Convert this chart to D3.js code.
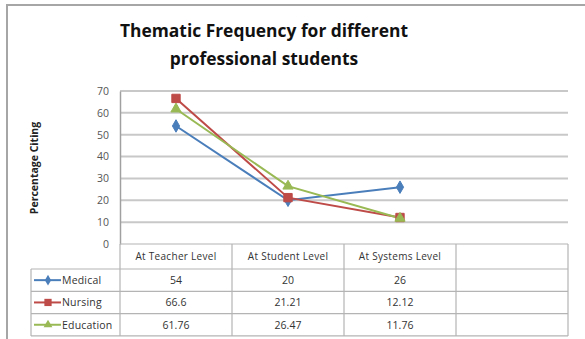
<!DOCTYPE html>
<html>
<head>
<meta charset="utf-8">
<script src="https://cdn.jsdelivr.net/npm/d3@7"></script>
<style>
  body { margin: 0; background: #fff; }
  svg { display: block; font-family: "Open Sans", "DejaVu Sans", sans-serif; }
  .mreza line { stroke: #c8c8c8; stroke-width: 2; }
  .tick-tekst { fill: #555; font-size: 10.5px; }
  .tablica line { stroke: #b4b4b4; stroke-width: 1.2; }
  .tablica text { fill: #333; }
</style>
</head>
<body>
<div id="okvir"></div>
<script>
const kategorije = ["At Teacher Level", "At Student Level", "At Systems Level", ""]
const serije = ["Medical", "Nursing", "Education"]
const medical = [54, 20, 26]
const nursing = [66.6, 21.21, 12.12]
const education = [61.76, 26.47, 11.76]
const tickovi = [0, 10, 20, 30, 40, 50, 60, 70]
const boje = ["#4a7ebb", "#be4b48", "#98b954"]

function crtaj() {
  const dimenzije = {
    sirina: 585,
    visina: 339,
    margine: { top: 91, right: 17, bottom: 95, left: 120 },
  }
  dimenzije.grSirina = dimenzije.sirina - dimenzije.margine.left - dimenzije.margine.right
  dimenzije.grVisina = dimenzije.visina - dimenzije.margine.top - dimenzije.margine.bottom

  const podaci = [medical, nursing, education]

  const okvir = d3.select("#okvir")
    .append("svg")
    .attr("width", dimenzije.sirina)
    .attr("height", dimenzije.visina)

  // vanjski okvir
  okvir.append("path")
    .attr("d", `M7,${dimenzije.visina} V5 H${dimenzije.sirina}`)
    .attr("fill", "none")
    .attr("stroke", "#a6a6a6")
    .attr("stroke-width", 2)

  // naslov
  const naslov = okvir.append("text")
    .attr("text-anchor", "middle")
    .style("font-size", "17.4px")
    .style("font-weight", "bold")
    .style("fill", "#111")
  naslov.append("tspan").attr("x", 264).attr("y", 37).text("Thematic Frequency for different")
  naslov.append("tspan").attr("x", 264).attr("y", 65).text("professional students")

  const granice = okvir.append("g")
    .attr("transform", `translate(${dimenzije.margine.left},${dimenzije.margine.top})`)

  const xSkala = d3.scaleBand()
    .domain(kategorije.map((d, i) => i))
    .range([0, dimenzije.grSirina])

  const ySkala = d3.scaleLinear()
    .domain([0, 70])
    .range([dimenzije.grVisina, 0])

  // mreza
  granice.append("g")
    .attr("class", "mreza")
    .selectAll("line")
    .data(tickovi.filter(d => d > 0))
    .enter().append("line")
      .attr("x1", 0)
      .attr("x2", dimenzije.grSirina)
      .attr("y1", d => ySkala(d))
      .attr("y2", d => ySkala(d))

  // y os
  const yOs = d3.axisLeft(ySkala).tickValues(tickovi).tickSize(0).tickPadding(11)
  const yOsGrupa = granice.append("g").call(yOs)
  yOsGrupa.select(".domain").attr("stroke", "#a0a0a0").attr("stroke-width", 1.5)
  yOsGrupa.selectAll("text")
    .attr("class", "tick-tekst")
    .style("font-family", "'Open Sans', sans-serif")

  okvir.append("text")
    .attr("transform", `translate(38,168) rotate(-90)`)
    .attr("text-anchor", "middle")
    .style("font-size", "10.5px")
    .style("font-weight", "bold")
    .style("fill", "#222")
    .text("Percentage Citing")

  // linije
  const linijaGenerator = d3.line()
    .x((d, i) => xSkala(i) + xSkala.bandwidth() / 2)
    .y(d => ySkala(d))

  const simboli = [d3.symbolDiamond, d3.symbolSquare, d3.symbolTriangle]
  const velicine = [45, 70, 45]

  podaci.forEach((serija, s) => {
    granice.append("path")
      .attr("d", linijaGenerator(serija))
      .attr("fill", "none")
      .attr("stroke", boje[s])
      .attr("stroke-width", 2)
  })
  podaci.forEach((serija, s) => {
    granice.selectAll(".marker" + s)
      .data(serija)
      .enter().append("path")
        .attr("class", "marker" + s)
        .attr("d", d3.symbol(simboli[s], velicine[s]))
        .attr("transform", (d, i) =>
          `translate(${xSkala(i) + xSkala.bandwidth() / 2},${ySkala(d)})`)
        .attr("fill", boje[s])
        .attr("stroke", boje[s])
  })

  // tablica podataka
  const tablica = okvir.append("g").attr("class", "tablica")
  const x0 = dimenzije.margine.left
  const x1 = dimenzije.margine.left + dimenzije.grSirina
  const vrhTablice = dimenzije.margine.top + dimenzije.grVisina
  const visinaZaglavlja = 25
  const visinaReda = 22.3
  const lijevoLegenda = 31
  const dnoTablice = vrhTablice + visinaZaglavlja + visinaReda * 3

  // horizontalne
  tablica.append("line").attr("x1", x0).attr("x2", x1).attr("y1", vrhTablice).attr("y2", vrhTablice)
  d3.range(4).forEach(r => {
    const y = vrhTablice + visinaZaglavlja + r * visinaReda
    tablica.append("line").attr("x1", lijevoLegenda).attr("x2", x1).attr("y1", y).attr("y2", y)
  })
  // vertikalne
  tablica.append("line").attr("x1", lijevoLegenda).attr("x2", lijevoLegenda)
    .attr("y1", vrhTablice + visinaZaglavlja).attr("y2", dnoTablice)
  kategorije.forEach((k, i) => {
    tablica.append("line")
      .attr("x1", x0 + xSkala(i)).attr("x2", x0 + xSkala(i))
      .attr("y1", vrhTablice).attr("y2", dnoTablice)
  })
  tablica.append("line").attr("x1", x1).attr("x2", x1).attr("y1", vrhTablice).attr("y2", dnoTablice)

  // zaglavlje
  tablica.selectAll(".zaglavlje")
    .data(kategorije)
    .enter().append("text")
      .attr("class", "zaglavlje")
      .attr("x", (d, i) => x0 + xSkala(i) + xSkala.bandwidth() / 2)
      .attr("y", vrhTablice + visinaZaglavlja / 2 + 3.5)
      .attr("text-anchor", "middle")
      .style("font-size", "10px")
      .style("letter-spacing", "0.3px")
      .text(d => d)

  podaci.forEach((serija, s) => {
    const yRed = vrhTablice + visinaZaglavlja + s * visinaReda + visinaReda / 2
    tablica.selectAll(".vr" + s)
      .data(serija)
      .enter().append("text")
        .attr("class", "vr" + s)
        .attr("x", (d, i) => x0 + xSkala(i) + xSkala.bandwidth() / 2)
        .attr("y", yRed + 3.8)
        .attr("text-anchor", "middle")
        .style("font-size", "10.5px")
        .text(d => d)

    // legenda
    tablica.append("line")
      .attr("x1", 34).attr("x2", 61)
      .attr("y1", yRed).attr("y2", yRed)
      .style("stroke", boje[s]).style("stroke-width", 2)
    tablica.append("path")
      .attr("d", d3.symbol(simboli[s], velicine[s] * 0.75))
      .attr("transform", `translate(48,${yRed})`)
      .attr("fill", boje[s])
    tablica.append("text")
      .attr("x", 62)
      .attr("y", yRed + 3.8)
      .style("font-size", "10.5px")
      .style("letter-spacing", "0.2px")
      .text(serije[s])
  })
}
crtaj()
</script>
</body>
</html>
